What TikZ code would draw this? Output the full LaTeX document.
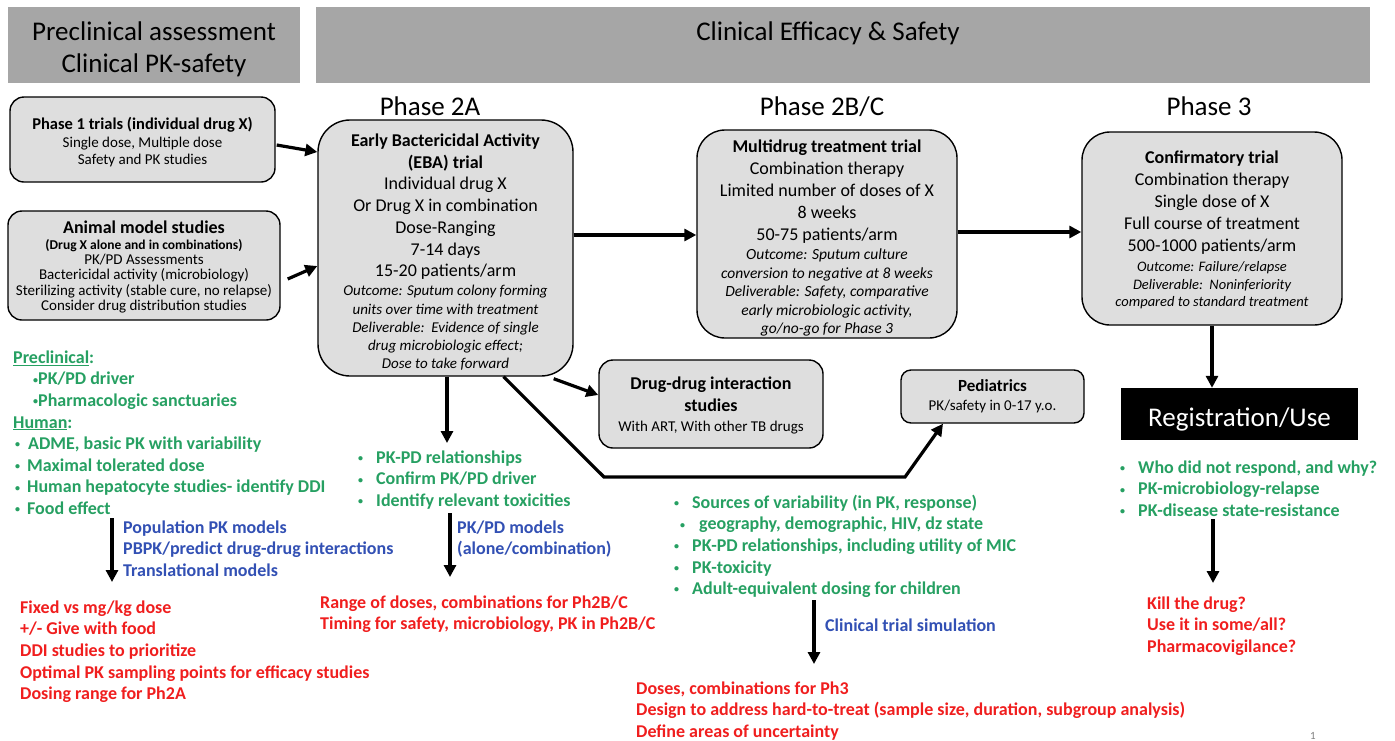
\documentclass[tikz,border=0pt]{standalone}
\usepackage{fontspec}
\setmainfont{Carlito}
\usetikzlibrary{arrows.meta,calc}
\definecolor{hdr}{RGB}{166,166,166}
\definecolor{boxfill}{RGB}{222,222,222}
\definecolor{tgreen}{RGB}{38,160,98}
\definecolor{tblue}{RGB}{50,80,180}
\definecolor{tred}{RGB}{240,30,30}
\newcommand\fs[2]{\fontsize{#1}{#2}\selectfont}
\newcommand\topstrut{\rule{0pt}{14pt}}
\newcommand\smbul{\raisebox{1.8pt}{\fs{10}{10}•}}
\newcommand\bul[1]{\makebox[#1][l]{\hspace{2pt}\smbul}}
\begin{document}
\begin{tikzpicture}[x=1pt,y=-1pt,
  hdrbox/.style={fill=hdr, draw=none, inner sep=0},
  gbox/.style={draw=black, line width=1.4pt, fill=boxfill, align=center, inner sep=0},
  arr/.style={line width=3.2pt, -{Triangle[length=12pt,width=12pt]}},
  ann/.style={anchor=north west, align=left, inner sep=0, font=\fs{18}{21.6}\bfseries},
  hdrtext/.style={anchor=base, inner sep=0, font=\fs{27}{32}},
]
\useasboundingbox[fill=white] (0,0) rectangle (1395,740);

% headers
\node[hdrbox, minimum width=292, minimum height=76] (hl) at (154,45) {};
\node[hdrbox, minimum width=1054, minimum height=76] (hr) at (843,45) {};
\node[hdrtext] (hl1) at (154,40) {Preclinical assessment};
\node[hdrtext] (hl2) at (154,72) {Clinical PK-safety};
\node[hdrtext] (hr1) at (828,40) {Clinical Efficacy \& Safety};

% phase labels
\node[hdrtext] (ph2a) at (430,115) {Phase 2A};
\node[hdrtext] (ph2b) at (822,115) {Phase 2B/C};
\node[hdrtext] (ph3) at (1209,115) {Phase 3};

% boxes
\node[gbox, rounded corners=14, minimum width=265, minimum height=85, font=\fs{15}{17.5}] (p1) at (142.5,139.5) {%
{\fs{16.5}{17.5}\bfseries\rule{0pt}{18pt}Phase 1 trials (individual drug X)}\\
Single dose, Multiple dose\\
Safety and PK studies};

\node[gbox, rounded corners=14, minimum width=272, minimum height=109, font=\fs{15}{15.3}] (am) at (144,265.5) {%
{\fs{18}{15.3}\bfseries\rule{0pt}{16pt}Animal model studies}\\
{\fs{13.5}{15.3}\bfseries (Drug X alone and in combinations)}\\
PK/PD Assessments\\
Bactericidal activity (microbiology)\\
Sterilizing activity (stable cure, no relapse)\\
Consider drug distribution studies};

\node[gbox, rounded corners=32, minimum width=255, minimum height=256, font=\fs{15}{18.2}] (eba) at (445.5,248) {%
{\fs{18}{18.2}\bfseries\rule{0pt}{21pt}Early Bactericidal Activity}\\[3.8pt]
{\fs{18}{18.2}\bfseries (EBA) trial}\\[3pt]
{\fs{18}{18.2}Individual drug X}\\[3.6pt]
{\fs{18}{18.2}Or Drug X in combination}\\[3.6pt]
{\fs{18}{18.2}Dose-Ranging}\\[3.4pt]
{\fs{18}{18.2}7-14 days}\\[3.6pt]
{\fs{18}{18.2}15-20 patients/arm}\\[0.8pt]
{\itshape Outcome: Sputum colony forming}\\
{\itshape units over time with treatment}\\
{\itshape Deliverable:\ \ Evidence of single}\\
{\itshape drug microbiologic effect;}\\
{\itshape Dose to take forward}};

\node[gbox, rounded corners=28, minimum width=260, minimum height=208, font=\fs{15.5}{18.5}] (md) at (827,234) {%
{\fs{18}{18.5}\bfseries\rule{0pt}{21pt}Multidrug treatment trial}\\[3.5pt]
{\fs{18}{18.5}Combination therapy}\\[3.5pt]
{\fs{18}{18.5}Limited number of doses of X}\\[3.5pt]
{\fs{18}{18.5}8 weeks}\\[3.5pt]
{\fs{18}{18.5}50-75 patients/arm}\\[0.5pt]
{\itshape Outcome: Sputum culture}\\
{\itshape conversion to negative at 8 weeks}\\
{\itshape Deliverable: Safety, comparative}\\
{\itshape early microbiologic activity,}\\
{\itshape go/no-go for Phase 3}};

\node[gbox, rounded corners=28, minimum width=260, minimum height=193, font=\fs{14.5}{17.5}] (cf) at (1212,228.5) {%
{\fs{18}{17.5}\bfseries\rule{0pt}{16pt}Confirmatory trial}\\[4.5pt]
{\fs{18}{17.5}Combination therapy}\\[4.5pt]
{\fs{18}{17.5}Single dose of X}\\[4.5pt]
{\fs{18}{17.5}Full course of treatment}\\[4.5pt]
{\fs{18}{17.5}500-1000 patients/arm}\\[2.5pt]
{\itshape Outcome: Failure/relapse}\\
{\itshape Deliverable:\ \ Noninferiority}\\
{\itshape compared to standard treatment}};

\node[fill=black, inner sep=0, minimum width=237, minimum height=52, text=white, font=\fs{27}{32}, text height=24pt, text depth=0pt] (reg) at (1239.5,414) {Registration/Use};

\node[gbox, rounded corners=14, minimum width=224, minimum height=88, font=\fs{15}{20}] (ddi) at (711,404) {%
{\fs{18}{20}\bfseries\rule{0pt}{16pt}Drug-drug interaction}\\[2pt]
{\fs{18}{20}\bfseries studies}\\
With ART, With other TB drugs};

\node[gbox, rounded corners=10, minimum width=183, minimum height=53, font=\fs{15}{19}] (ped) at (992.5,396.5) {%
{\fs{17}{19}\bfseries Pediatrics}\\
PK/safety in 0-17 y.o.};

% arrows between boxes
\draw[arr] ($(p1.east)+(1,5.5)$) -- ($(eba.west)+(0,-96)$);
\draw[arr] ($(am.east)+(7,13.5)$) -- ($(eba.west)+(0,18)$);
\draw[arr] ($(eba.east)+(0,-13)$) -- ($(md.west)+(0,1)$);
\draw[arr] ($(md.east)+(0,-2)$) -- ($(cf.west)+(0,3.5)$);
\draw[arr] (cf.south) -- (cf.south |- reg.north);
\draw[arr] ($(eba.south east)+(-20,2)$) -- ($(ddi.west)+(0,-9)$);
\coordinate (ebadown) at (447,443);
\draw[arr] ($(eba.south)+(1.5,0)$) -- (ebadown);
\coordinate (pc1) at (604,477);
\coordinate (pc2) at (905,477);
\draw[arr] ($(eba.south)+(58,0)$) -- (pc1) -- (pc2) -- ($(ped.south)+(-49.5,0)$);

% annotations: left column
\node[ann, text=tgreen] (anA) at (13,349) {%
\topstrut\underline{Preclinical}:\\
\hspace*{20pt}\smbul PK/PD driver\\
\hspace*{20pt}\smbul Pharmacologic sanctuaries\\
\underline{Human}:\\
\bul{15pt}ADME, basic PK with variability\\
\bul{14pt}Maximal tolerated dose\\
\bul{14pt}Human hepatocyte studies- identify DDI\\
\bul{14pt}Food effect};
\node[ann, text=tblue] (anB) at (123,519) {%
\topstrut Population PK models\\
PBPK/predict drug-drug interactions\\
Translational models};
\coordinate (la1) at (112,518);
\coordinate (la2) at (112,582);
\draw[arr] (la1) -- (la2);
\node[ann, text=tred] (anC) at (20,599) {%
\topstrut Fixed vs mg/kg dose\\
+/- Give with food\\
DDI studies to prioritize\\
Optimal PK sampling points for efficacy studies\\
Dosing range for Ph2A};

% middle column
\node[ann, text=tgreen] (anD) at (356,449) {%
\topstrut\bul{20pt}PK-PD relationships\\
\bul{20pt}Confirm PK/PD driver\\
\bul{20pt}Identify relevant toxicities};
\coordinate (ma1) at (450,513);
\coordinate (ma2) at (450,577);
\draw[arr] (ma1) -- (ma2);
\node[ann, text=tblue] (anE) at (457,519) {%
\topstrut PK/PD models\\
(alone/combination)};
\node[ann, text=tred] (anF) at (320,594) {%
\topstrut Range of doses, combinations for Ph2B/C\\
Timing for safety, microbiology, PK in Ph2B/C};

% right-middle column
\node[ann, text=tgreen] (anG) at (672,494) {%
\topstrut\bul{20pt}Sources of variability (in PK, response)\\
\hspace*{6pt}\bul{21pt}geography, demographic, HIV, dz state\\
\bul{20pt}PK-PD relationships, including utility of MIC\\
\bul{20pt}PK-toxicity\\
\bul{20pt}Adult-equivalent dosing for children};
\coordinate (ra1) at (814,600);
\coordinate (ra2) at (814,664);
\draw[arr] (ra1) -- (ra2);
\node[ann, text=tblue] (anSim) at (825,617) {\topstrut Clinical trial simulation};
\node[ann, text=tred] (anH) at (636,680) {%
\topstrut Doses, combinations for Ph3\\
Design to address hard-to-treat (sample size, duration, subgroup analysis)\\
Define areas of uncertainty};

% right column
\node[ann, text=tgreen] (anI) at (1118,459) {%
\topstrut\bul{20pt}Who did not respond, and why?\\
\bul{20pt}PK-microbiology-relapse\\
\bul{20pt}PK-disease state-resistance};
\coordinate (xa1) at (1213,519);
\coordinate (xa2) at (1213,583);
\draw[arr] (xa1) -- (xa2);
\node[ann, text=tred] (anJ) at (1147,595) {%
\topstrut Kill the drug?\\
Use it in some/all?\\
Pharmacovigilance?};

\node[anchor=base, inner sep=0, font=\fs{11}{11}, text=gray] (pg) at (1313,739) {1};
\end{tikzpicture}
\end{document}
